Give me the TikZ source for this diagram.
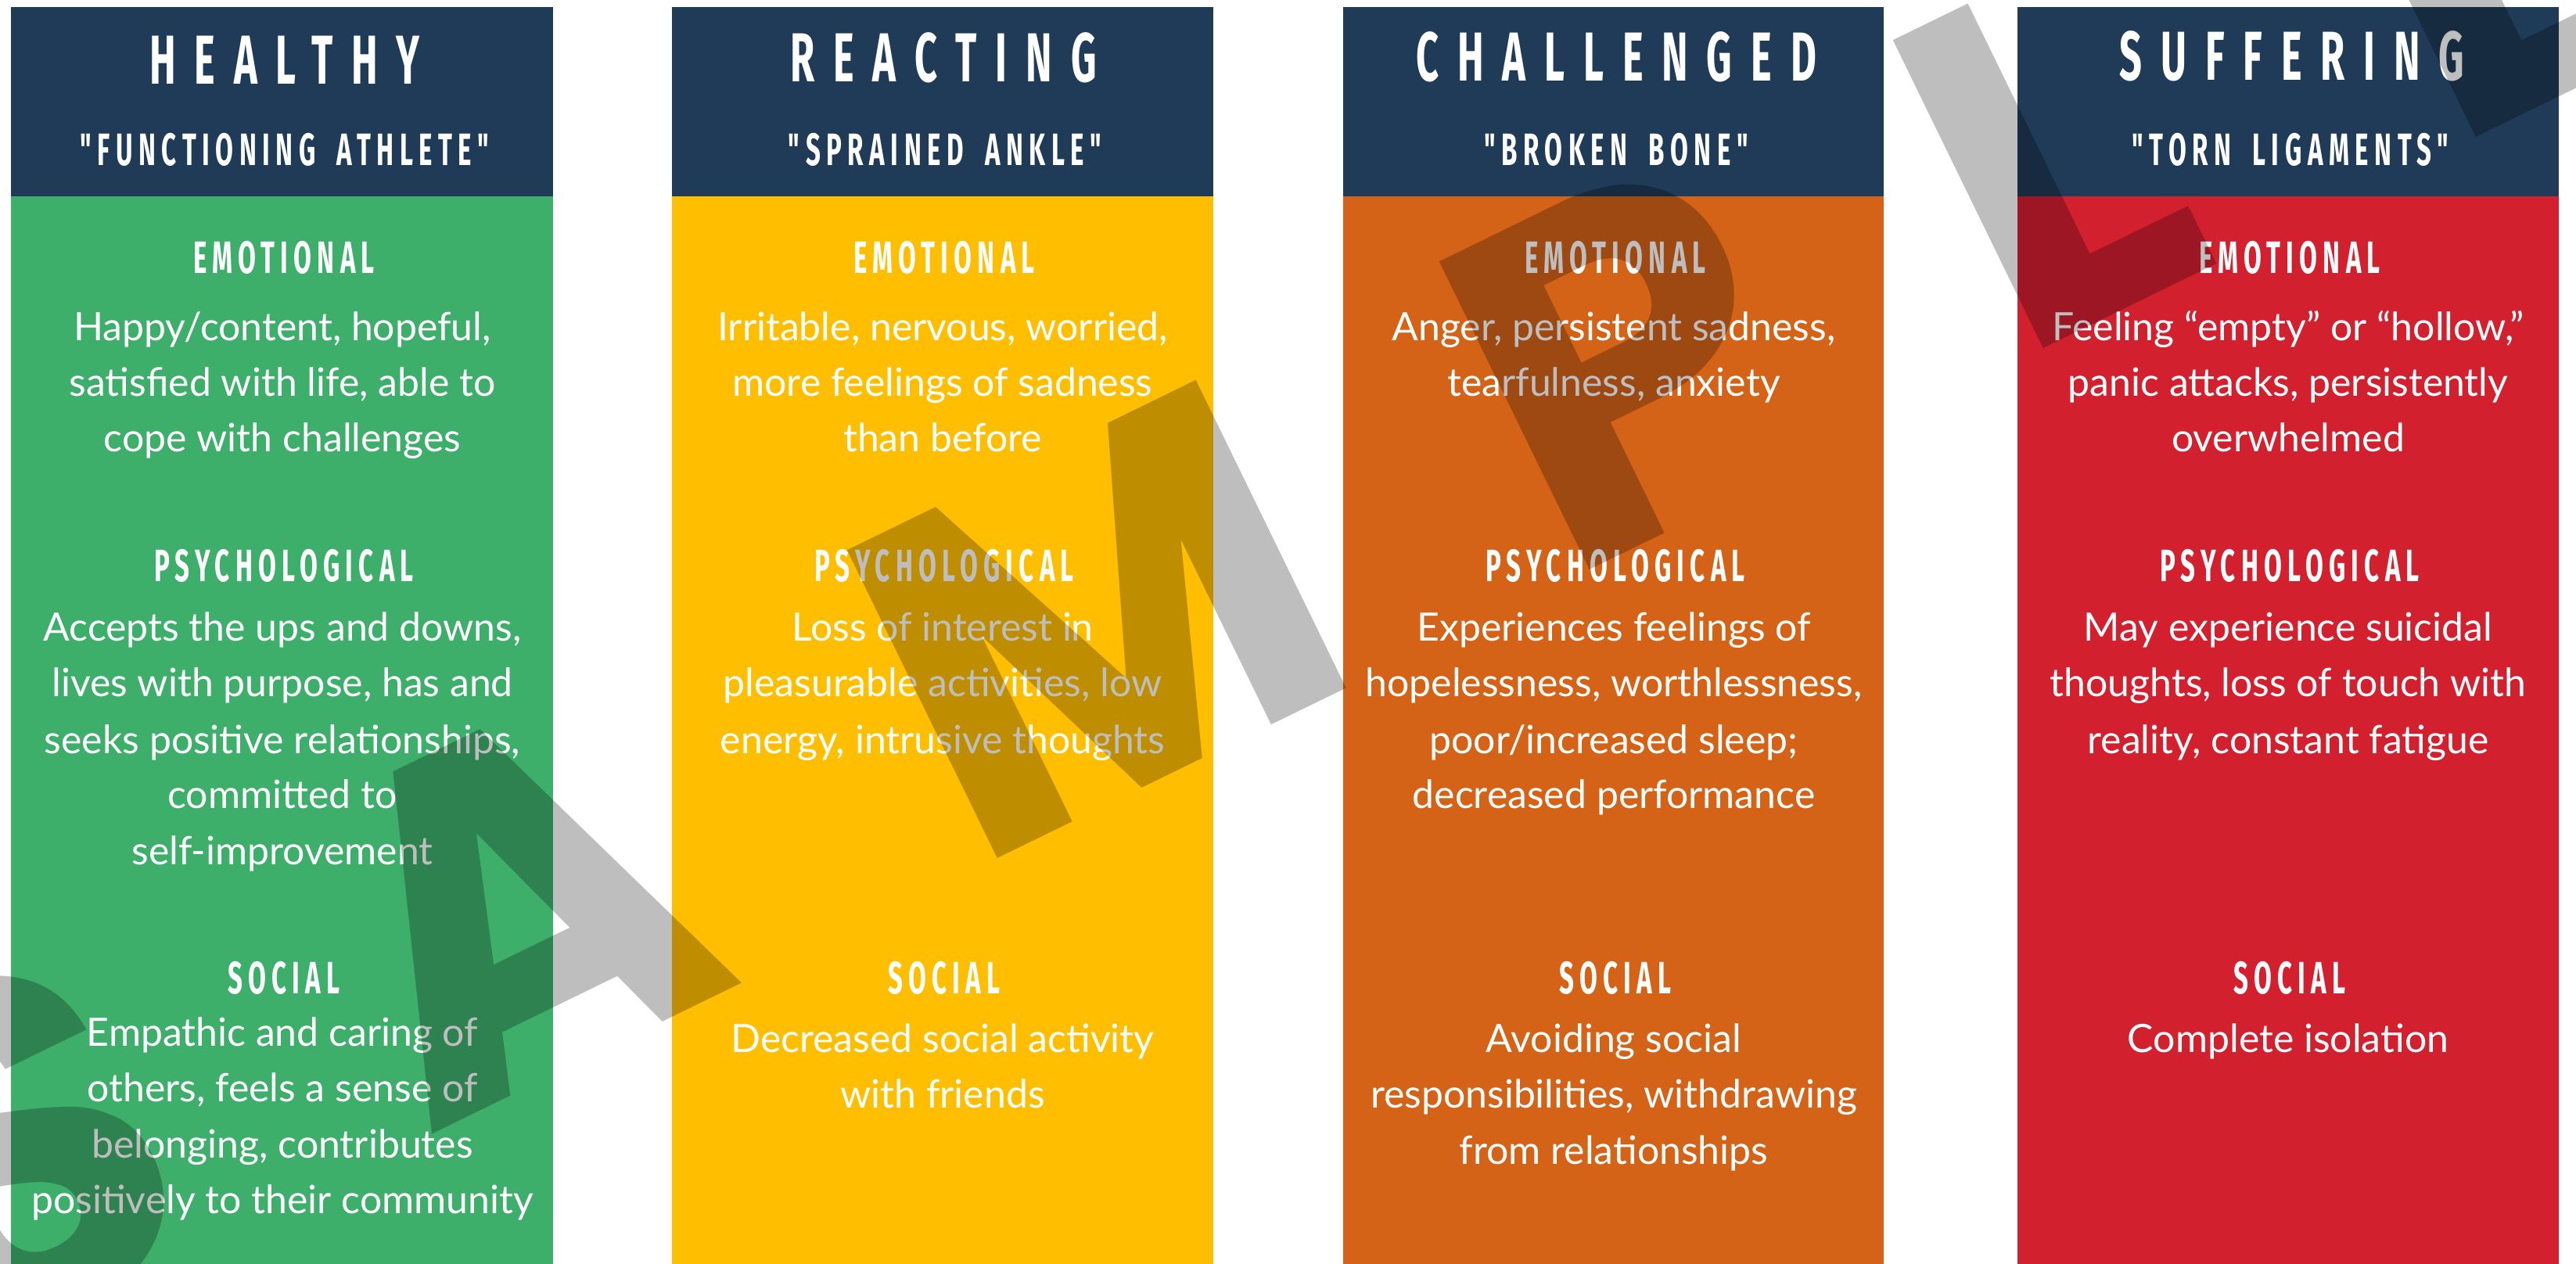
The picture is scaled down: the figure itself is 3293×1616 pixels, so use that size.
\documentclass[tikz,border=0pt]{standalone}
\usepackage{fontspec}
\setmainfont{Lato}
\newfontfamily\headfont[FakeStretch=0.57]{Fira Sans}
\newfontfamily\wmfont{Poppins}
\definecolor{navy}{HTML}{1F3B57}
\definecolor{cgreen}{HTML}{3DAF6B}
\definecolor{cyellow}{HTML}{FFBF00}
\definecolor{corange}{HTML}{D46317}
\definecolor{cred}{HTML}{D2202F}
\newcommand\wgap{\hspace{0.2em} }
\tikzset{
  titletxt/.style={font=\headfont\bfseries\addfontfeature{LetterSpace=27}\fontsize{25.2}{30}\selectfont, text=white, anchor=base, inner sep=0pt},
  subtxt/.style={font=\headfont\bfseries\addfontfeature{LetterSpace=13}\fontsize{16.5}{20}\selectfont, text=white, anchor=base, inner sep=0pt},
  labeltxt/.style={font=\headfont\bfseries\addfontfeature{LetterSpace=12.5}\fontsize{16.5}{20}\selectfont, text=white, anchor=base, inner sep=0pt},
  bodytxt/.style={font=\fontsize{14.2}{17}\selectfont, text=white, anchor=base, inner sep=0pt},
  wmark/.style={font=\wmfont\bfseries\fontsize{177.5}{180}\selectfont, text=black, text opacity=0.255, anchor=base west, inner sep=0pt, rotate=26}
}
\begin{document}
\begin{tikzpicture}[x=0.01cm, y=-0.01cm]
\useasboundingbox (0,0) rectangle (3293,1616);
\fill[white] (0,0) rectangle (3293,1616);
% columns
\fill[navy] (14,9) rectangle (707,251);
\fill[cgreen] (14,251) rectangle (707,1616);
\fill[navy] (859,9) rectangle (1551,251);
\fill[cyellow] (859,251) rectangle (1551,1616);
\fill[navy] (1717,9) rectangle (2408,251);
\fill[corange] (1717,251) rectangle (2408,1616);
\fill[navy] (2579,9) rectangle (3271,251);
\fill[cred] (2579,251) rectangle (3271,1616);

% column 1
\node[titletxt] (t1) at (364,108) {HEALTHY};
\node[subtxt] (s1) at (364,212) {"FUNCTIONING\wgap ATHLETE"};
\node[labeltxt] (e1) at (363,350) {EMOTIONAL};
\node[bodytxt] (e1a) at (361,436) {Happy/content, hopeful,};
\node[bodytxt] (e1b) at (361,507) {satisfied with life, able to};
\node[bodytxt] (e1c) at (361,578) {cope with challenges};
\node[labeltxt] (p1) at (363,744) {PSYCHOLOGICAL};
\node[bodytxt] (p1a) at (361,820) {Accepts the ups and downs,};
\node[bodytxt] (p1b) at (361,891) {lives with purpose, has and};
\node[bodytxt] (p1c) at (361,963) {seeks positive relationships,};
\node[bodytxt] (p1d) at (361,1034) {committed to};
\node[bodytxt] (p1e) at (361,1105) {self-improvement};
\node[labeltxt] (o1) at (363,1270) {SOCIAL};
\node[bodytxt] (o1a) at (361,1337) {Empathic and caring of};
\node[bodytxt] (o1b) at (361,1408) {others, feels a sense of};
\node[bodytxt] (o1c) at (361,1480) {belonging, contributes};
\node[bodytxt] (o1d) at (361,1551) {positively to their community};

% column 2
\node[titletxt] (t2) at (1206,105) {REACTING};
\node[subtxt] (s2) at (1208,212) {"SPRAINED\wgap ANKLE"};
\node[labeltxt] (e2) at (1207,350) {EMOTIONAL};
\node[bodytxt] (e2a) at (1205,436) {Irritable, nervous, worried,};
\node[bodytxt] (e2b) at (1205,507) {more feelings of sadness};
\node[bodytxt] (e2c) at (1205,578) {than before};
\node[labeltxt] (p2) at (1207,744) {PSYCHOLOGICAL};
\node[bodytxt] (p2a) at (1205,820) {Loss of interest in};
\node[bodytxt] (p2b) at (1205,891) {pleasurable activities, low};
\node[bodytxt] (p2c) at (1205,963) {energy, intrusive thoughts};
\node[labeltxt] (o2) at (1207,1270) {SOCIAL};
\node[bodytxt] (o2a) at (1205,1345) {Decreased social activity};
\node[bodytxt] (o2b) at (1205,1416) {with friends};

% column 3
\node[titletxt] (t3) at (2066,104) {CHALLENGED};
\node[subtxt] (s3) at (2066,212) {"BROKEN\wgap BONE"};
\node[labeltxt] (e3) at (2065,350) {EMOTIONAL};
\node[bodytxt] (e3a) at (2063,436) {Anger, persistent sadness,};
\node[bodytxt] (e3b) at (2063,507) {tearfulness, anxiety};
\node[labeltxt] (p3) at (2065,744) {PSYCHOLOGICAL};
\node[bodytxt] (p3a) at (2063,820) {Experiences feelings of};
\node[bodytxt] (p3b) at (2063,891) {hopelessness, worthlessness,};
\node[bodytxt] (p3c) at (2063,963) {poor/increased sleep;};
\node[bodytxt] (p3d) at (2063,1034) {decreased performance};
\node[labeltxt] (o3) at (2065,1270) {SOCIAL};
\node[bodytxt] (o3a) at (2063,1345) {Avoiding social};
\node[bodytxt] (o3b) at (2063,1416) {responsibilities, withdrawing};
\node[bodytxt] (o3c) at (2063,1488) {from relationships};

% column 4
\node[titletxt] (t4) at (2930,103) {SUFFERING};
\node[subtxt] (s4) at (2928,212) {"TORN\wgap LIGAMENTS"};
\node[labeltxt] (e4) at (2927,350) {EMOTIONAL};
\node[bodytxt] (e4a) at (2925,436) {Feeling “empty” or “hollow,”};
\node[bodytxt] (e4b) at (2925,507) {panic attacks, persistently};
\node[bodytxt] (e4c) at (2925,578) {overwhelmed};
\node[labeltxt] (p4) at (2927,744) {PSYCHOLOGICAL};
\node[bodytxt] (p4a) at (2925,820) {May experience suicidal};
\node[bodytxt] (p4b) at (2925,891) {thoughts, loss of touch with};
\node[bodytxt] (p4c) at (2925,963) {reality, constant fatigue};
\node[labeltxt] (o4) at (2927,1270) {SOCIAL};
\node[bodytxt] (o4a) at (2925,1345) {Complete isolation};

% watermark
\begin{scope}
\clip (0,0) rectangle (3293,1616);
\node[wmark] (wS) at (-68,1753) {S};
\node[wmark] (wA) at (543,1455) {A};
\node[wmark] (wM) at (1240,1115) {M};
\node[wmark] (wP) at (1997,746) {P};
\node[wmark] (wL) at (2577,463) {L};
\node[wmark] (wE) at (3130,193) {E};
\end{scope}
\end{tikzpicture}
\end{document}
